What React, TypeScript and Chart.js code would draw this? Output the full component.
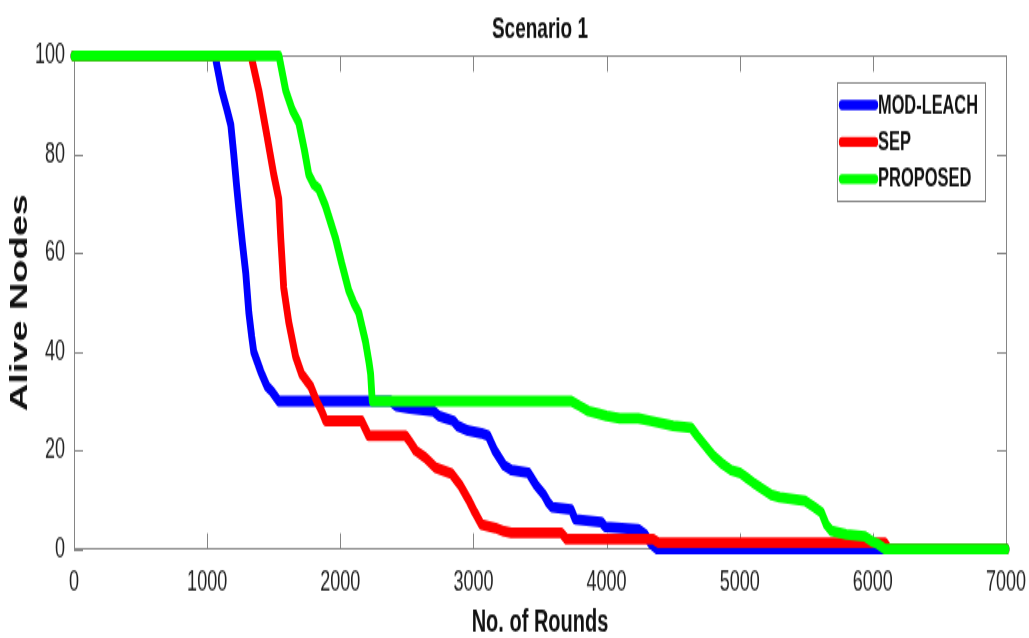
import React, { useEffect, useRef } from "react";
import { Chart, registerables } from "chart.js";

Chart.register(...registerables);

const TITLE = "Scenario 1";
const X_TITLE = "No. of Rounds";
const Y_TITLE = "Alive Nodes";
const X_TICKS = [0, 1000, 2000, 3000, 4000, 5000, 6000, 7000];
const Y_TICKS = [0, 20, 40, 60, 80, 100];
const SERIES_NAMES = ["MOD-LEACH", "SEP", "PROPOSED"];
const SERIES_COLORS = ["#0000ff", "#ff0000", "#00ff00"];

const modLeachRounds = [0, 1060, 1110, 1150, 1178, 1200, 1220, 1238, 1265, 1290, 1313, 1335, 1350, 1403, 1450, 1485, 1538, 2380, 2420, 2520, 2700, 2740, 2850, 2880, 2960, 3060, 3110, 3160, 3230, 3285, 3413, 3470, 3530, 3560, 3590, 3735, 3765, 3960, 3990, 4238, 4290, 4336, 4380, 6050, 7000];
const modLeachAlive = [100, 100, 93, 89, 86, 80, 74, 69, 62, 56, 48, 43, 40, 36, 33, 32, 30, 30, 29, 28.5, 28, 27, 26, 25, 24, 23.5, 23, 20, 17, 16, 15.5, 13, 11, 9.5, 8.5, 8, 6, 5.5, 4.5, 4, 3, 1, 0, 0, 0];

const sepRounds = [0, 1330, 1388, 1448, 1500, 1538, 1553, 1575, 1613, 1665, 1710, 1778, 1823, 1860, 1890, 2160, 2213, 2490, 2530, 2565, 2640, 2715, 2835, 2900, 2963, 3010, 3060, 3165, 3230, 3285, 3660, 3700, 4350, 4390, 6090, 6120, 7000];
const sepAlive = [100, 100, 93, 84, 76, 71, 63, 53, 46, 39, 35.5, 33, 30, 28, 26, 26, 23, 23, 21.5, 20, 18.5, 16.5, 15.3, 13, 10, 7.5, 5, 4.3, 3.6, 3.3, 3.3, 2, 2, 1.3, 1.3, 0, 0];

const proposedRounds = [0, 1540, 1590, 1640, 1688, 1730, 1763, 1800, 1838, 1890, 1930, 1965, 2010, 2063, 2100, 2138, 2190, 2215, 2228, 2240, 3735, 3800, 3863, 3938, 4000, 4100, 4238, 4330, 4500, 4636, 4680, 4740, 4800, 4860, 4936, 5000, 5050, 5100, 5238, 5300, 5490, 5560, 5613, 5650, 5688, 5800, 5940, 6000, 6040, 6090, 7000];
const proposedAlive = [100, 100, 93, 89, 86.5, 81, 76, 74, 73, 69.5, 66, 63, 58, 52.5, 50, 48, 42, 38, 35.5, 30, 30, 29, 28, 27.5, 27, 26.5, 26.5, 26, 25, 24.6, 23, 21, 19, 17.5, 16, 15.5, 14.5, 13.5, 11, 10.5, 9.8, 8.5, 7.5, 5, 3.7, 3, 2.6, 1.5, 1, 0, 0];

const SERIES_ROUNDS = [modLeachRounds, sepRounds, proposedRounds];
const SERIES_ALIVE = [modLeachAlive, sepAlive, proposedAlive];

// The reference picture is vertically stretched; draw at a shorter logical height and stretch with CSS.
const VIEW_W = 1029;
const VIEW_H = 638;
const STRETCH_Y = 1.58;
const LOGICAL_H = Math.round(VIEW_H / STRETCH_Y);

const FONT = "'Liberation Sans', Arial, sans-serif";
const AXIS_COLOR = "#858585";

const framePlugin = {
  id: "matlabFrame",
  beforeDatasetsDraw(chart: any) {
    const { ctx, chartArea: a, scales } = chart;
    ctx.save();
    ctx.strokeStyle = AXIS_COLOR;
    ctx.lineWidth = 1;
    ctx.strokeRect(Math.round(a.left) + 0.5, Math.round(a.top) + 0.5, Math.round(a.right - a.left), Math.round(a.bottom - a.top));
    ctx.beginPath();
    scales.x.ticks.forEach((t: any) => {
      const px = Math.round(scales.x.getPixelForValue(t.value)) + 0.5;
      ctx.moveTo(px, a.bottom);
      ctx.lineTo(px, a.bottom - 10);
      ctx.moveTo(px, a.top);
      ctx.lineTo(px, a.top + 10);
    });
    scales.y.ticks.forEach((t: any) => {
      const py = Math.round(scales.y.getPixelForValue(t.value)) + 0.5;
      ctx.moveTo(a.left, py);
      ctx.lineTo(a.left + 9, py);
      ctx.moveTo(a.right, py);
      ctx.lineTo(a.right - 9, py);
    });
    ctx.stroke();
    ctx.restore();
  },
};

const legendPlugin = {
  id: "insideLegend",
  afterDraw(chart: any) {
    const { ctx } = chart;
    const x0 = 837, y0 = 52, w = 148, h = 75;
    ctx.save();
    ctx.fillStyle = "#ffffff";
    ctx.fillRect(x0, y0, w, h);
    ctx.strokeStyle = AXIS_COLOR;
    ctx.lineWidth = 1;
    ctx.strokeRect(x0 + 0.5, y0 + 0.5, w, h);
    SERIES_NAMES.forEach((name, i) => {
      const y = y0 + 14.5 + i * 23.4;
      ctx.strokeStyle = SERIES_COLORS[i];
      ctx.lineWidth = 6.3;
      ctx.lineCap = "round";
      ctx.beginPath();
      ctx.moveTo(x0 + 5, y);
      ctx.lineTo(x0 + 38, y);
      ctx.stroke();
      ctx.fillStyle = "#111111";
      ctx.font = `bold 16.5px ${FONT}`;
      ctx.textBaseline = "middle";
      ctx.textAlign = "left";
      ctx.fillText(name, x0 + 41, y + 0.5, 100);
    });
    ctx.restore();
  },
};

export default function App() {
  const ref = useRef<HTMLCanvasElement | null>(null);

  useEffect(() => {
    document.body.style.margin = "0";
    const canvas = ref.current;
    if (!canvas) return;
    const datasets = SERIES_NAMES.map((name, i) => ({
      label: name,
      data: SERIES_ROUNDS[i].map((r, j) => ({ x: r, y: SERIES_ALIVE[i][j] })),
      borderColor: SERIES_COLORS[i],
      backgroundColor: SERIES_COLORS[i],
      borderWidth: 6.8,
      pointRadius: 0,
      tension: 0,
      fill: false,
      borderJoinStyle: "round" as const,
      borderCapStyle: "round" as const,
      clip: false as const,
      order: 2 - i,
    }));
    const chart = new Chart(canvas, {
      type: "line",
      data: { datasets },
      options: {
        animation: false,
        responsive: false,
        devicePixelRatio: 1,
        layout: { padding: { left: 0, right: 23, top: 0, bottom: 0 } },
        plugins: {
          legend: { display: false },
          tooltip: { enabled: false },
          title: {
            display: true,
            text: TITLE,
            color: "#111111",
            font: { family: FONT, size: 19, weight: "bold" },
            padding: { top: 7.6, bottom: 5 },
            fullSize: false,
          },
        },
        scales: {
          x: {
            type: "linear",
            min: 0,
            max: 7000,
            afterBuildTicks: (s: any) => {
              s.ticks = X_TICKS.map((v) => ({ value: v }));
            },
            afterFit: (s: any) => {
              s.height = 56.3;
              s.paddingLeft = 0;
              s.paddingRight = 0;
            },
            grid: { display: false, drawTicks: false },
            border: { display: false },
            ticks: {
              color: "#222222",
              font: { family: FONT, size: 18 },
              padding: 10.5,
              maxRotation: 0,
              autoSkip: false,
              callback: (v: any) => String(v),
            },
            title: {
              display: true,
              text: X_TITLE,
              color: "#111111",
              font: { family: FONT, size: 20, weight: "bold", lineHeight: 1 },
              padding: { top: 0, bottom: 0 },
            },
          },
          y: {
            type: "linear",
            min: 0,
            max: 100,
            afterBuildTicks: (s: any) => {
              s.ticks = Y_TICKS.map((v) => ({ value: v }));
            },
            afterFit: (s: any) => {
              s.width = 74;
            },
            grid: { display: false, drawTicks: false },
            border: { display: false },
            ticks: {
              color: "#222222",
              font: { family: FONT, size: 18 },
              padding: 9,
              autoSkip: false,
              callback: (v: any) => String(v),
            },
            title: {
              display: true,
              text: Y_TITLE,
              color: "#111111",
              font: { family: FONT, size: 24, weight: "bold" },
              padding: { top: 6, bottom: 0 },
            },
          },
        },
      },
      plugins: [framePlugin, legendPlugin],
    });
    return () => chart.destroy();
  }, []);

  return (
    <div style={{ position: "absolute", left: 0, top: 0, width: VIEW_W, height: VIEW_H, background: "#ffffff" }}>
      <canvas
        ref={ref}
        width={VIEW_W}
        height={LOGICAL_H}
        style={{ display: "block", width: VIEW_W, height: VIEW_H }}
      />
    </div>
  );
}
